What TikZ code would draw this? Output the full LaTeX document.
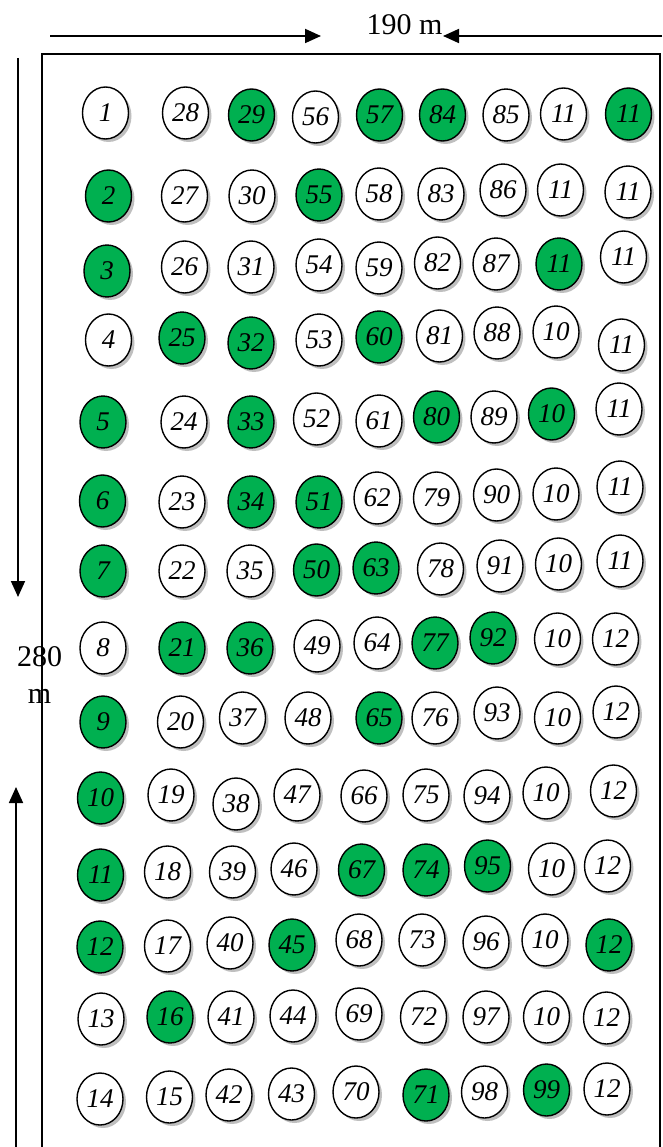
\documentclass[tikz,border=0pt]{standalone}
\usepackage{fontspec}
\setmainfont{Liberation Serif}
\usetikzlibrary{shapes.geometric,shadows,arrows.meta}
\definecolor{plotgreen}{RGB}{0,176,80}

\begin{document}
\begin{tikzpicture}[
  x=1pt, y=-1pt,
  plot/.style={ellipse, draw, line width=1.4pt, fill=#1, inner sep=0pt,
    minimum width=46pt, minimum height=52pt,
    font=\fontsize{27}{27}\selectfont\itshape,
    drop shadow={shadow xshift=3pt, shadow yshift=-3pt, fill=black!25, opacity=1}},
  plot/.default=white,
  dim/.style={line width=1.8pt, -{Triangle[length=16pt,width=14pt]}},
  lbl/.style={font=\fontsize{30}{37}\selectfont, inner sep=0pt},
]
\useasboundingbox (0,0) rectangle (662,1147);

% Field border
\draw[line width=1.2pt] (42,1147) -- (42,54) -- (660,54) -- (660,1147);

% Dimension ends
\coordinate (wl) at (50,36);
\coordinate (wlt) at (321,36);
\coordinate (wr) at (662,36);
\coordinate (wrt) at (443,36);
\coordinate (ht) at (18,58);
\coordinate (htt) at (18,597);
\coordinate (hb) at (16,1147);
\coordinate (hbt) at (16,787);

\node[lbl, anchor=base] (width) at (404.5,35) {190 m};
\node[lbl, anchor=base, align=center] (height) at (39.5,703) {280\\m};

\draw[dim] (wl) -- (wlt);
\draw[dim] (wr) -- (wrt);
\draw[dim] (ht) -- (htt);
\draw[dim] (hb) -- (hbt);

% Row 1
\foreach \c/\x/\y/\n/\f in {1/105.5/113/1/white, 2/185.5/113/28/white, 3/251.5/115/29/plotgreen,
  4/315.5/117/56/white, 5/379.5/115/57/plotgreen, 6/442.5/115/84/plotgreen,
  7/506/115/85/white, 8/563.5/114/11/white, 9/628.5/114/11/plotgreen}
  \node[plot=\f] (r1c\c) at (\x,\y) {\n};

% Row 2
\foreach \c/\x/\y/\n/\f in {1/108.5/196/2/plotgreen, 2/184.5/196/27/white, 3/252/196/30/white,
  4/319/195/55/plotgreen, 5/379/194/58/white, 6/441/194/83/white,
  7/503/190/86/white, 8/560.5/190/11/white, 9/628/192/11/white}
  \node[plot=\f] (r2c\c) at (\x,\y) {\n};

% Row 3
\foreach \c/\x/\y/\n/\f in {1/107/271/3/plotgreen, 2/184.5/267/26/white, 3/251/267/31/white,
  4/319/265/54/white, 5/379/268/59/white, 6/437.5/263/82/white,
  7/496/264/87/white, 8/559/264/11/plotgreen, 9/623.5/257/11/white}
  \node[plot=\f] (r3c\c) at (\x,\y) {\n};

% Row 4
\foreach \c/\x/\y/\n/\f in {1/108.5/340/4/white, 2/182/338/25/plotgreen, 3/251/343/32/plotgreen,
  4/319/340/53/white, 5/379/337/60/plotgreen, 6/439.5/336/81/white,
  7/497/333/88/white, 8/556/332/10/white, 9/621.5/345/11/white}
  \node[plot=\f] (r4c\c) at (\x,\y) {\n};

% Row 5
\foreach \c/\x/\y/\n/\f in {1/103/422/5/plotgreen, 2/184/422/24/white, 3/251/422/33/plotgreen,
  4/316.5/419/52/white, 5/379/421/61/white, 6/436.5/417/80/plotgreen,
  7/494/417/89/white, 8/551.5/414/10/plotgreen, 9/619/409/11/white}
  \node[plot=\f] (r5c\c) at (\x,\y) {\n};

% Row 6
\foreach \c/\x/\y/\n/\f in {1/102.5/501/6/plotgreen, 2/182/502/23/white, 3/251/502/34/plotgreen,
  4/319/502/51/plotgreen, 5/377/498/62/white, 6/436.5/498/79/white,
  7/496.5/495/90/white, 8/556/494/10/white, 9/620/487/11/white}
  \node[plot=\f] (r6c\c) at (\x,\y) {\n};

% Row 7
\foreach \c/\x/\y/\n/\f in {1/103/571/7/plotgreen, 2/182/571/22/white, 3/250/571/35/white,
  4/316.5/570/50/plotgreen, 5/376/568/63/plotgreen, 6/440.5/569/78/white,
  7/500/566/91/white, 8/558.5/564/10/white, 9/620/561/11/white}
  \node[plot=\f] (r7c\c) at (\x,\y) {\n};

% Row 8
\foreach \c/\x/\y/\n/\f in {1/103/648/8/white, 2/182/648/21/plotgreen, 3/250/648/36/plotgreen,
  4/317/646/49/white, 5/377/643/64/white, 6/435/643/77/plotgreen,
  7/493/638/92/plotgreen, 8/557.5/639/10/white, 9/615.5/639/12/white}
  \node[plot=\f] (r8c\c) at (\x,\y) {\n};

% Row 9
\foreach \c/\x/\y/\n/\f in {1/103/722/9/plotgreen, 2/180.5/722/20/white, 3/242.5/718/37/white,
  4/308/718/48/white, 5/379/718/65/plotgreen, 6/435/718/76/white,
  7/497/713/93/white, 8/557.5/718/10/white, 9/616/712/12/white}
  \node[plot=\f] (r9c\c) at (\x,\y) {\n};

% Row 10
\foreach \c/\x/\y/\n/\f in {1/100.5/798/10/plotgreen, 2/171/795/19/white, 3/236/804/38/white,
  4/297/795/47/white, 5/364/796/66/white, 6/426/795/75/white,
  7/487/796/94/white, 8/546/793/10/white, 9/613.5/791/12/white}
  \node[plot=\f] (r10c\c) at (\x,\y) {\n};

% Row 11
\foreach \c/\x/\y/\n/\f in {1/100.5/875/11/plotgreen, 2/167.5/872/18/white, 3/232.5/872/39/white,
  4/294/869/46/white, 5/361.5/870/67/plotgreen, 6/426/870/74/plotgreen,
  7/487.5/866/95/plotgreen, 8/551.5/869/10/white, 9/607.5/866/12/white}
  \node[plot=\f] (r11c\c) at (\x,\y) {\n};

% Row 12
\foreach \c/\x/\y/\n/\f in {1/100/947/12/plotgreen, 2/167.5/946/17/white, 3/230/943/40/white,
  4/292/945/45/plotgreen, 5/359/940/68/white, 6/422/940/73/white,
  7/486/942/96/white, 8/545/940/10/white, 9/609/945/12/plotgreen}
  \node[plot=\f] (r12c\c) at (\x,\y) {\n};

% Row 13
\foreach \c/\x/\y/\n/\f in {1/101/1019/13/white, 2/170/1017/16/plotgreen, 3/231/1017/41/white,
  4/293/1016/44/white, 5/359/1014/69/white, 6/423.5/1017/72/white,
  7/486/1017/97/white, 8/546.5/1017/10/white, 9/606.5/1018/12/white}
  \node[plot=\f] (r13c\c) at (\x,\y) {\n};

% Row 14
\foreach \c/\x/\y/\n/\f in {1/100/1099/14/white, 2/169.5/1097/15/white, 3/229/1095/42/white,
  4/291.5/1094/43/white, 5/356/1092/70/white, 6/426/1095/71/plotgreen,
  7/484.5/1092/98/white, 8/546.5/1090/99/plotgreen, 9/607/1089/12/white}
  \node[plot=\f] (r14c\c) at (\x,\y) {\n};

\end{tikzpicture}
\end{document}
